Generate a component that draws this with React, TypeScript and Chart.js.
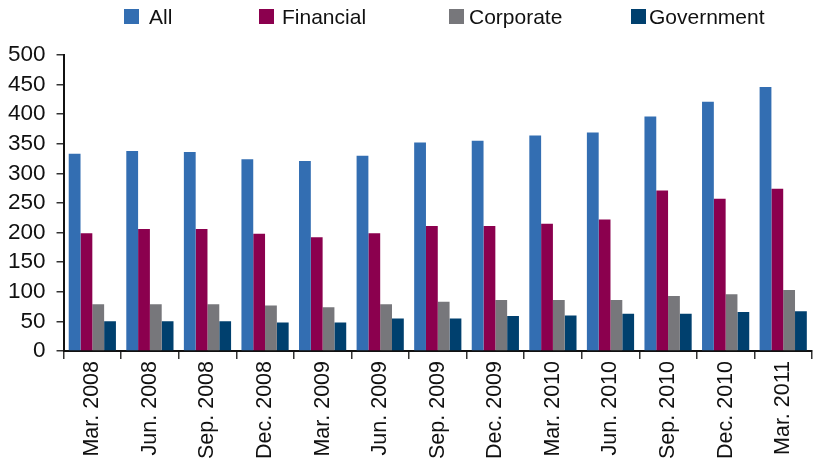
import React, { useEffect, useRef } from "react";
import { Chart, registerables } from "chart.js";

Chart.register(...registerables);

const categories = [
  "Mar. 2008", "Jun. 2008", "Sep. 2008", "Dec. 2008", "Mar. 2009", "Jun. 2009", "Sep. 2009",
  "Dec. 2009", "Mar. 2010", "Jun. 2010", "Sep. 2010", "Dec. 2010", "Mar. 2011",
];
const seriesNames = ["All", "Financial", "Corporate", "Government"];
const seriesColors = ["#336EB2", "#8B004E", "#77777B", "#00406E"];
const allValues = [333, 338, 336, 324, 321, 330, 352, 355, 364, 369, 396, 421, 446];
const financialValues = [199, 206, 206, 198, 192, 199, 211, 211, 215, 222, 271, 257, 274];
const corporateValues = [79, 79, 79, 77, 74, 79, 83, 86, 86, 86, 93, 96, 103];
const governmentValues = [50, 50, 50, 48, 48, 55, 55, 59, 60, 63, 63, 66, 67];
const yTicks = [0, 50, 100, 150, 200, 250, 300, 350, 400, 450, 500];

const FONT = "'Liberation Sans', Arial, Helvetica, sans-serif";

// legend layout (box left edge, gap from box to text)
const legendBoxX = [124, 259, 449, 631];
const legendTextGap = [25, 23, 20, 18];

const legendPlugin = {
  id: "refLegend",
  afterDraw(chart: any) {
    const ctx = chart.ctx;
    ctx.save();
    ctx.font = `21px ${FONT}`;
    ctx.textBaseline = "alphabetic";
    ctx.textAlign = "left";
    chart.data.datasets.forEach((ds: any, i: number) => {
      const x = legendBoxX[i];
      ctx.fillStyle = ds.backgroundColor;
      ctx.fillRect(x, 9, 15, 15);
      ctx.fillStyle = "#111";
      ctx.fillText(ds.label, x + legendTextGap[i], 24);
    });
    ctx.restore();
  },
};

export default function App() {
  const ref = useRef<HTMLCanvasElement | null>(null);
  useEffect(() => {
    if (!ref.current) return;
    const values = [allValues, financialValues, corporateValues, governmentValues];
    const chart = new Chart(ref.current, {
      type: "bar",
      data: {
        labels: categories,
        datasets: seriesNames.map((name, i) => ({
          label: name,
          data: values[i],
          backgroundColor: seriesColors[i],
        })),
      },
      plugins: [legendPlugin],
      options: {
        animation: false,
        responsive: true,
        maintainAspectRatio: false,
        datasets: { bar: { categoryPercentage: 0.82, barPercentage: 1.0 } },
        layout: { padding: { left: -3, right: 1, top: 55, bottom: 3 } },
        plugins: {
          tooltip: { enabled: false },
          legend: { display: false },
        },
        scales: {
          x: {
            grid: {
              offset: true,
              drawOnChartArea: false,
              drawTicks: true,
              tickLength: 8,
              color: "#333",
              lineWidth: 1.5,
            },
            border: { display: true, color: "#111", width: 2 },
            ticks: {
              color: "#111",
              font: { family: FONT, size: 21.5 },
              maxRotation: 90,
              minRotation: 90,
              autoSkip: false,
              padding: 2,
            },
          },
          y: {
            min: 0,
            max: 500,
            afterBuildTicks: (axis: any) => {
              axis.ticks = yTicks.map((v) => ({ value: v }));
            },
            grid: {
              drawOnChartArea: false,
              drawTicks: true,
              tickLength: 7,
              color: "#333",
              lineWidth: 1.5,
            },
            border: { display: true, color: "#111", width: 2 },
            ticks: {
              color: "#111",
              font: { family: FONT, size: 22.5 },
              padding: 11,
              autoSkip: false,
            },
          },
        },
      },
    });
    return () => chart.destroy();
  }, []);
  return (
    <div style={{ position: "fixed", left: 0, top: 0, width: 813, height: 464, background: "#fff" }}>
      <canvas ref={ref} />
    </div>
  );
}
